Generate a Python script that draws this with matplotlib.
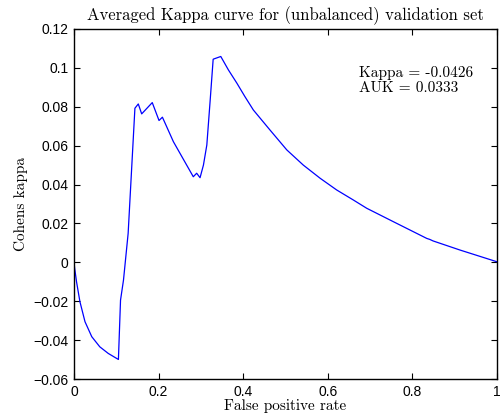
import matplotlib
matplotlib.use('Agg')
import matplotlib.pyplot as plt

# averaged kappa curve
fpr = [0.0, 0.0016, 0.006, 0.014, 0.026, 0.042, 0.061, 0.081, 0.105,
       0.110, 0.117, 0.128, 0.144, 0.152, 0.160, 0.185, 0.201, 0.209,
       0.235, 0.282, 0.290, 0.298, 0.306, 0.314, 0.322, 0.329, 0.347,
       0.365, 0.385, 0.404, 0.424, 0.463, 0.503, 0.542, 0.582, 0.621, 0.660, 0.692,
       0.755, 0.834, 0.841, 0.849, 0.913, 1.0]
kappa = [0.0, -0.0031, -0.0100, -0.0202, -0.0305, -0.0382, -0.0434, -0.0468, -0.0499,
         -0.0194, -0.0091, 0.0149, 0.0792, 0.0814, 0.0763, 0.0821, 0.0729, 0.0746,
         0.0620, 0.0440, 0.0458, 0.0435, 0.0500, 0.0603, 0.0835, 0.1044, 0.1058,
         0.0989, 0.0921, 0.0852, 0.0783, 0.0681, 0.0578, 0.0500, 0.0432, 0.0372, 0.0321, 0.0278,
         0.0209, 0.0123, 0.0118, 0.0110, 0.0063, 0.0003]

xticks = [0, 0.2, 0.4, 0.6, 0.8, 1]
xticklabels = ['0', '0.2', '0.4', '0.6', '0.8', '1']
yticks = [-0.06, -0.04, -0.02, 0, 0.02, 0.04, 0.06, 0.08, 0.1, 0.12]
yticklabels = ['\u22120.06', '\u22120.04', '\u22120.02', '0', '0.02', '0.04',
               '0.06', '0.08', '0.1', '0.12']

serif = ['cmr10', 'DejaVu Serif']
sans = ['Liberation Sans', 'DejaVu Sans']

fig = plt.figure(figsize=(5.0, 4.18), dpi=100)
ax = fig.add_axes([0.148, 0.093, 0.846, 0.838])

ax.plot(fpr, kappa, color='#0000ff', linewidth=0.9)

ax.set_xlim(0, 1)
ax.set_ylim(-0.06, 0.12)
ax.set_xticks(xticks)
ax.set_xticklabels(xticklabels, family=sans, fontsize=10)
ax.set_yticks(yticks)
ax.set_yticklabels(yticklabels, family=sans, fontsize=10)
ax.tick_params(direction='in', top=True, right=True, length=4, width=0.8, pad=4)
for s in ax.spines.values():
    s.set_linewidth(1.0)

ax.set_title('Averaged Kappa curve for (unbalanced) validation set',
             family=serif, fontsize=12, pad=6)
ax.set_xlabel('False positive rate', family=serif, fontsize=11, labelpad=0)
ax.set_ylabel('Cohens kappa', family=serif, fontsize=11, labelpad=4)

ax.text(0.674, 0.893, 'Kappa = -0.0426\nAUK = 0.0333', transform=ax.transAxes,
        family=serif, fontsize=11, va='top', linespacing=1.1)

fig.savefig('out.png', dpi=100)
